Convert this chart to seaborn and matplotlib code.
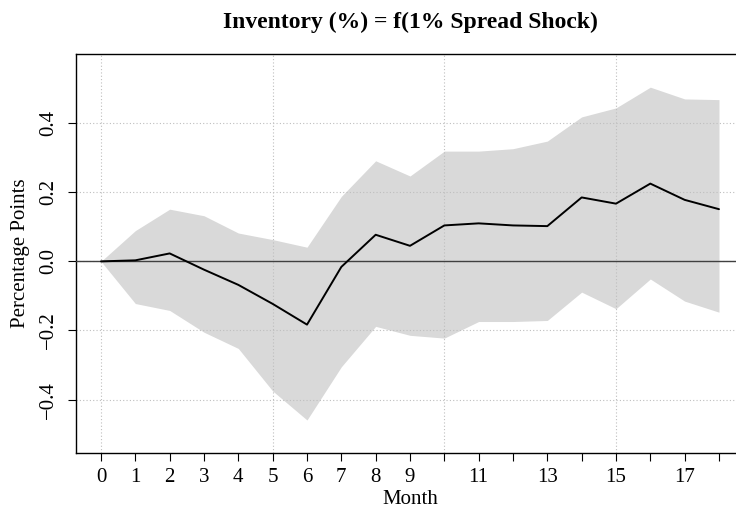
import numpy as np
import pandas as pd
import matplotlib
matplotlib.use("Agg")
import matplotlib.pyplot as plt
import seaborn as sns

months = list(range(19))
response = [0.0, 0.003, 0.023, -0.024, -0.068, -0.123, -0.183, -0.016, 0.077, 0.045,
            0.104, 0.110, 0.104, 0.102, 0.185, 0.167, 0.225, 0.178, 0.151]
upper = [0.0, 0.089, 0.151, 0.132, 0.082, 0.063, 0.041, 0.188, 0.291, 0.247,
         0.319, 0.319, 0.326, 0.348, 0.418, 0.444, 0.504, 0.470, 0.468]
lower = [0.0, -0.122, -0.142, -0.205, -0.252, -0.375, -0.459, -0.305, -0.188, -0.214,
         -0.222, -0.174, -0.174, -0.171, -0.089, -0.137, -0.051, -0.115, -0.147]
x_tick_labels = ["0", "1", "2", "3", "4", "5", "6", "7", "8", "9",
                 "", "11", "", "13", "", "15", "", "17", ""]
y_ticks = [-0.4, -0.2, 0.0, 0.2, 0.4]
title = "Inventory (%) = f(1% Spread Shock)"
xlabel = "Month"
ylabel = "Percentage Points"

df = pd.DataFrame({"Month": months, "resp": response, "lo": lower, "hi": upper})

sns.set_theme(style="white")
plt.rcParams["font.family"] = ["Liberation Serif", "DejaVu Serif"]
plt.rcParams["axes.unicode_minus"] = True

fig = plt.figure(figsize=(7.36, 5.12), dpi=100)
W, H = 736, 512
left_px, right_px = 76.3, 743.7
top_px, bot_px = 54.0, 452.5
ax = fig.add_axes([left_px / W, 1 - bot_px / H, (right_px - left_px) / W, (bot_px - top_px) / H])

ax.fill_between(df["Month"], df["lo"], df["hi"], color="#D9D9D9", linewidth=0, zorder=1)

# grid
for gx in [0, 5, 10, 15]:
    ax.axvline(gx, color="#BEBEBE", lw=0.8, ls=(0, (1, 2)), zorder=2)
for gy in y_ticks:
    ax.axhline(gy, color="#BEBEBE", lw=0.8, ls=(0, (1, 2)), zorder=2)

ax.axhline(0, color="#404040", lw=1.0, zorder=3)
sns.lineplot(data=df, x="Month", y="resp", color="black", lw=1.4, ax=ax, zorder=4)

ax.set_xlim(-0.72, 18.72)
ax.set_ylim(-0.553, 0.6)
ax.set_xticks(months)
ax.set_xticklabels(x_tick_labels)
ax.set_yticks(y_ticks)
ax.set_yticklabels([f"{v:.1f}".replace("-", "\u2212") for v in y_ticks], rotation=90, va="center")

fs = 15
ax.tick_params(axis="both", direction="out", length=6, width=0.8, color="black",
               labelsize=fs, labelcolor="black", bottom=True, left=True)
ax.tick_params(axis="x", pad=5)
ax.tick_params(axis="y", pad=7)
for s in ax.spines.values():
    s.set_color("black")
    s.set_linewidth(1.0)

ax.set_xlabel(xlabel, fontsize=fs, color="black", labelpad=2)
ax.set_ylabel(ylabel, fontsize=fs, color="black", labelpad=7)
fig.text((left_px + right_px) / 2 / W, 1 - 22 / H, title, ha="center", va="center",
         fontsize=17, fontweight="bold", color="black")

fig.savefig("out.png", dpi=100)
